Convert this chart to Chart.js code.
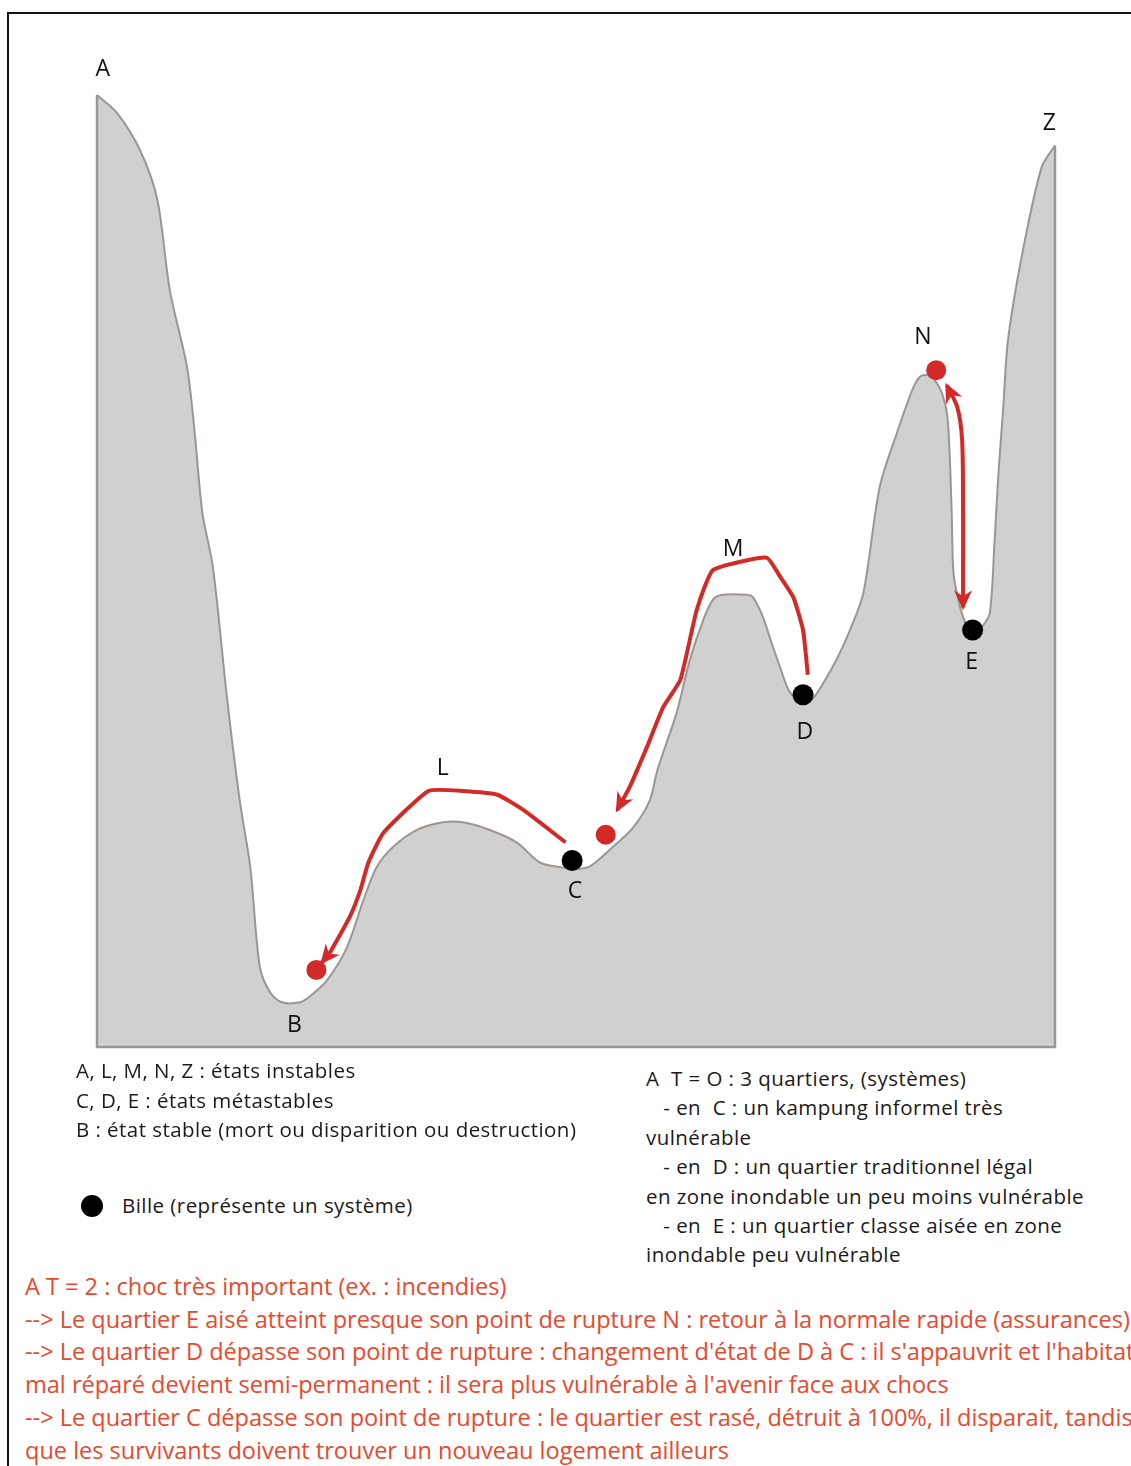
<!DOCTYPE html>
<html lang="fr">
<head>
<meta charset="utf-8">
<script src="https://cdn.jsdelivr.net/npm/chart.js@4.4.1/dist/chart.umd.min.js"></script>
<style>
  html, body { margin: 0; padding: 0; background: #fff; }
  body { width: 1131px; height: 1466px; position: relative; overflow: hidden; font-family: "Open Sans", sans-serif; }
  .cadre { position: absolute; left: 7px; top: 12px; right: -10px; bottom: -10px; border-top: 2px solid #111; border-left: 2px solid #111; }
  #wrap { position: absolute; left: 0; top: 0; width: 1131px; height: 1060px; }
  .bloc { position: absolute; white-space: nowrap; color: #1a1a1a; font-size: 20.5px; letter-spacing: 0.45px; }
  #legende { left: 76px; top: 1056px; line-height: 29.5px; }
  #bille { left: 81px; top: 1191px; line-height: 29px; }
  #bille span.pt { display: inline-block; width: 22px; height: 22px; border-radius: 50%; background: #000; vertical-align: -4px; margin-right: 19px; }
  #etat0 { left: 646px; top: 1064px; line-height: 29.4px; }
  #choc { left: 25px; top: 1270px; font-size: 24px; letter-spacing: 0; line-height: 32.7px; color: #e8492f; transform: scaleX(0.98); transform-origin: left top; }
</style>
</head>
<body>
<div class="cadre"></div>
<div id="wrap"><canvas id="paysage"></canvas></div>

<div class="bloc" id="legende">
  <div>A, L, M, N, Z : états instables</div>
  <div>C, D, E : états métastables</div>
  <div>B : état stable (mort ou disparition ou destruction)</div>
</div>
<div class="bloc" id="bille"><span class="pt"></span>Bille (représente un système)</div>
<div class="bloc" id="etat0">
  <div>A&nbsp; T = O : 3 quartiers, (systèmes)</div>
  <div>&nbsp;&nbsp; - en&nbsp; C : un kampung informel très</div>
  <div>vulnérable</div>
  <div>&nbsp;&nbsp; - en&nbsp; D : un quartier traditionnel légal</div>
  <div>en zone inondable un peu moins vulnérable</div>
  <div>&nbsp;&nbsp; - en&nbsp; E : un quartier classe aisée en zone</div>
  <div>inondable peu vulnérable</div>
</div>
<div class="bloc" id="choc">
  <div>A T = 2 : choc très important (ex. : incendies)</div>
  <div>--&gt; Le quartier E aisé atteint presque son point de rupture N : retour à la normale rapide (assurances)</div>
  <div>--&gt; Le quartier D dépasse son point de rupture : changement d'état de D à C : il s'appauvrit et l'habitat</div>
  <div>mal réparé devient semi-permanent : il sera plus vulnérable à l'avenir face aux chocs</div>
  <div>--&gt; Le quartier C dépasse son point de rupture : le quartier est rasé, détruit à 100%, il disparait, tandis</div>
  <div>que les survivants doivent trouver un nouveau logement ailleurs</div>
</div>

<script>
// Profil du relief (x : distance 0-100, y : "altitude" 0-100)
const profilX = [0, 2.1, 4.5, 6.3, 7.6, 9.4, 10.2, 11.0, 12.1, 13.6, 14.9, 16.0, 17.0, 18.1, 19.3, 21.2, 22.2, 24.0, 26.1, 27.8,
  29.2, 30.9, 33.4, 36.1, 38.2, 41.0, 43.8, 46.2, 48.3, 49.9, 51.5, 53.5, 56.0, 57.7, 58.5, 60.5, 61.9, 63.3, 64.3, 65.3,
  67.8, 68.5, 69.5, 70.3, 71.3, 72.3, 73.7, 74.7, 75.8, 77.2, 78.6, 80.0, 81.7, 83.5, 85.1, 85.9, 86.7, 87.4, 88.2, 88.8,
  89.2, 89.4, 89.9, 90.4, 91.4, 92.5, 93.2, 93.7, 94.1, 94.6, 95.1, 96.6, 98.6, 100];
const profilY = [100, 98.1, 94.2, 89.0, 79.5, 71.4, 64.5, 56.1, 50.4, 36.4, 25.9, 18.9, 8.4, 5.7, 4.7, 4.7, 5.3, 7.0, 10.5, 15.4,
  18.9, 21.0, 22.8, 23.6, 23.6, 22.8, 21.5, 19.4, 18.9, 18.7, 19.0, 20.7, 23.1, 25.9, 29.1, 35.1, 40.7, 44.9, 47.0, 47.5,
  47.5, 47.2, 45.2, 42.8, 39.9, 37.3, 36.1, 36.6, 38.2, 40.7, 43.8, 47.7, 58.8, 64.5, 69.0, 70.4, 70.6, 70.1, 68.7, 65.9,
  56.7, 49.8, 47.0, 45.2, 43.2, 44.3, 45.6, 53.3, 60.3, 67.2, 74.3, 83.4, 92.4, 94.7];

// Cadre du bloc (murs et base)
const cadreX = [0, 0, 100, 100];
const cadreY = [100, 0, 0, 94.7];

// Billes noires (états métastables C, D, E)
const billesX = [49.6, 73.7, 91.4];
const billesY = [19.6, 37.0, 43.8];

// Billes rouges (après le choc)
const rougesX = [22.9, 53.1, 87.6];
const rougesY = [8.1, 22.3, 71.1];

// Trajets (flèches)
const trajetLX = [48.9, 44.5, 41.8, 38.2, 34.6, 29.9, 28.3, 27.5, 26.4, 24.3, 23.5];
const trajetLY = [21.5, 24.9, 26.5, 26.9, 26.9, 22.5, 19.3, 16.5, 13.7, 9.9, 8.9];
const trajetMX = [74.2, 73.7, 72.7, 71.3, 69.9, 64.3, 62.6, 60.9, 59.1, 57.4, 55.6, 54.3];
const trajetMY = [39.1, 43.8, 47.2, 49.4, 51.4, 50.1, 45.9, 38.6, 35.7, 31.5, 27.3, 24.9];
const trajetNX = [88.7, 89.8, 90.3, 90.4, 90.4, 90.4];
const trajetNY = [69.5, 67.2, 63.8, 56.7, 49.8, 46.2];

// Etiquettes des états
const etiquettes = ['A', 'Z', 'N', 'M', 'L', 'D', 'E', 'C', 'B'];
const etiquettesX = [0.6, 99.4, 86.2, 66.4, 36.1, 73.9, 91.3, 49.9, 20.6];
const etiquettesY = [102.7, 97.0, 74.5, 52.3, 29.3, 33.0, 40.4, 16.3, 2.3];

const ROUGE = '#d42a27';
const GRIS_TRAIT = '#9c9692';

const pts = (xs, ys) => xs.map((x, i) => ({ x, y: ys[i] }));

const pluginDessin = {
  id: 'dessin',
  afterDatasetsDraw(chart) {
    const { ctx, scales: { x, y } } = chart;
    // pointes de flèches
    chart.data.datasets.forEach((ds, i) => {
      if (!ds.fleche) return;
      const p = chart.getDatasetMeta(i).data;
      const pointe = (a, b) => {
        const ang = Math.atan2(a.y - b.y, a.x - b.x);
        ctx.save();
        ctx.translate(a.x, a.y);
        ctx.rotate(ang);
        ctx.fillStyle = ROUGE;
        ctx.beginPath();
        ctx.moveTo(3, 0);
        ctx.lineTo(-17, -9);
        ctx.lineTo(-11, 0);
        ctx.lineTo(-17, 9);
        ctx.closePath();
        ctx.fill();
        ctx.restore();
      };
      const n = p.length;
      pointe(p[n - 1], p[n - 2]);
      if (ds.fleche === 'double') pointe(p[0], p[1]);
    });
    // lettres
    ctx.save();
    ctx.fillStyle = '#111';
    ctx.font = '23px "Open Sans", sans-serif';
    ctx.textAlign = 'center';
    ctx.textBaseline = 'middle';
    etiquettes.forEach((t, i) => ctx.fillText(t, x.getPixelForValue(etiquettesX[i]), y.getPixelForValue(etiquettesY[i])));
    ctx.restore();
  }
};

new Chart(document.getElementById('paysage'), {
  type: 'scatter',
  data: {
    datasets: [
      { label: 'Relief', data: pts(profilX, profilY), showLine: true, fill: 'origin', tension: 0.3,
        backgroundColor: '#d0d0d0', borderColor: GRIS_TRAIT, borderWidth: 2, pointRadius: 0, clip: false, order: 5 },
      { label: 'Cadre', data: pts(cadreX, cadreY), showLine: true, fill: false, tension: 0,
        borderColor: GRIS_TRAIT, borderWidth: 2.5, pointRadius: 0, clip: false, order: 4 },
      { label: 'L', data: pts(trajetLX, trajetLY), showLine: true, tension: 0.15, fleche: 'fin',
        borderColor: ROUGE, borderWidth: 4, pointRadius: 0, clip: false, order: 3 },
      { label: 'M', data: pts(trajetMX, trajetMY), showLine: true, tension: 0.15, fleche: 'fin',
        borderColor: ROUGE, borderWidth: 4, pointRadius: 0, clip: false, order: 3 },
      { label: 'N', data: pts(trajetNX, trajetNY), showLine: true, tension: 0.3, fleche: 'double',
        borderColor: ROUGE, borderWidth: 4, pointRadius: 0, clip: false, order: 3 },
      { label: 'Billes', data: pts(billesX, billesY), pointRadius: 10.5, backgroundColor: '#000', borderWidth: 0, clip: false, order: 1 },
      { label: 'Billes rouges', data: pts(rougesX, rougesY), pointRadius: 10, backgroundColor: ROUGE, borderWidth: 0, clip: false, order: 1 }
    ]
  },
  options: {
    responsive: true,
    maintainAspectRatio: false,
    animation: false,
    layout: { padding: { left: 97, right: 76, top: 95, bottom: 13 } },
    plugins: { legend: { display: false }, tooltip: { enabled: false } },
    scales: {
      x: { type: 'linear', min: 0, max: 100, display: false },
      y: { type: 'linear', min: 0, max: 100, display: false }
    }
  },
  plugins: [pluginDessin]
});
</script>
</body>
</html>
